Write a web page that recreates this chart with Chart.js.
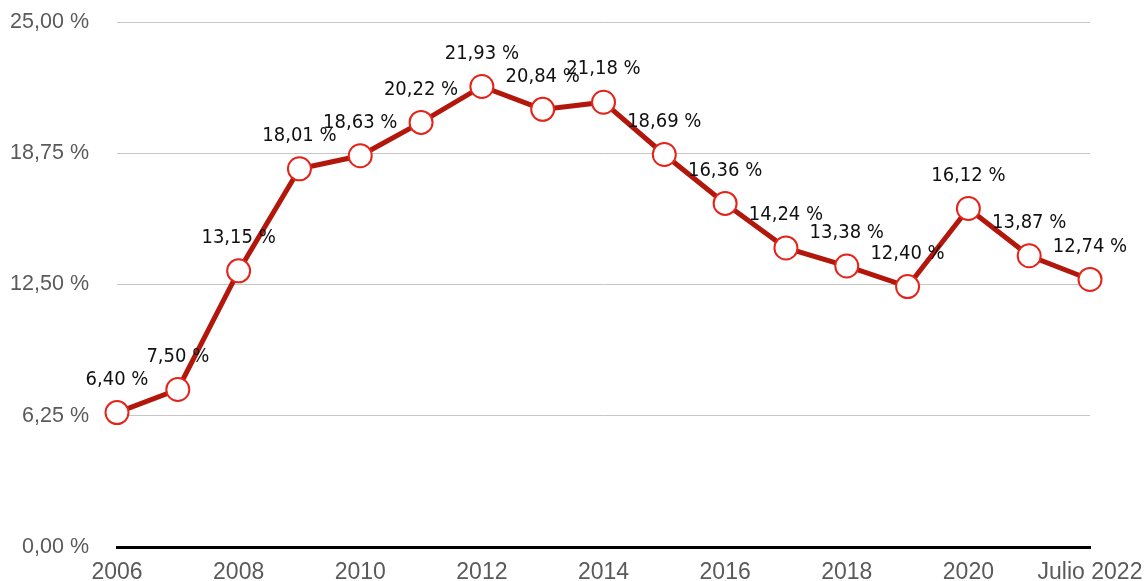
<!DOCTYPE html>
<html>
<head>
<meta charset="utf-8">
<script src="https://cdn.jsdelivr.net/npm/chart.js@4/dist/chart.umd.min.js"></script>
<style>
    html, body { margin: 0; padding: 0; background: #fff; }
    #wrap { width: 1146px; height: 581px; }
</style>
</head>
<body>
<div id="wrap"><canvas id="myChart" width="1146" height="581"></canvas></div>
<script>
const years = ['2006', '2007', '2008', '2009', '2010', '2011', '2012', '2013', '2014',
    '2015', '2016', '2017', '2018', '2019', '2020', '2021', 'Julio 2022'];
const rates = [6.40, 7.50, 13.15, 18.01, 18.63, 20.22, 21.93, 20.84, 21.18,
    18.69, 16.36, 14.24, 13.38, 12.40, 16.12, 13.87, 12.74];
const yTicks = [0, 6.25, 12.5, 18.75, 25];

const fmt = v => v.toFixed(2).replace('.', ',') + ' %';
const labelFont = '20px "DejaVu Sans Condensed", sans-serif';

// draws the value over each point
const pointLabels = {
    id: 'pointLabels',
    afterDatasetsDraw(chart) {
        const ctx = chart.ctx;
        const meta = chart.getDatasetMeta(0);
        ctx.save();
        ctx.font = labelFont;
        ctx.fillStyle = '#111111';
        ctx.textAlign = 'center';
        ctx.textBaseline = 'middle';
        meta.data.forEach((pt, i) => {
            ctx.fillText(fmt(rates[i]), pt.x, pt.y - 33);
        });
        ctx.restore();
    }
};

const ctx = document.getElementById('myChart').getContext('2d');
const myChart = new Chart(ctx, {
    type: 'line',
    data: {
        labels: years,
        datasets: [{
            data: rates,
            borderColor: '#b3170c',
            borderWidth: 5,
            pointBackgroundColor: '#ffffff',
            pointBorderColor: '#e4241a',
            pointBorderWidth: 2,
            pointRadius: 11.5,
            tension: 0,
            clip: false
        }]
    },
    options: {
        responsive: false,
        animation: false,
        layout: { autoPadding: false, padding: { left: 0, right: 56, top: 22, bottom: 0 } },
        plugins: {
            legend: { display: false },
            tooltip: { enabled: false }
        },
        scales: {
            x: {
                offset: false,
                grid: { display: false, drawTicks: false },
                border: { display: true, color: '#000000', width: 3 },
                afterFit: s => { s.height = 34; s.paddingLeft = 0; s.paddingRight = 0; },
                ticks: {
                    autoSkip: false,
                    maxRotation: 0,
                    padding: 12,
                    color: '#5a5a5a',
                    font: { family: '"Liberation Sans", Arial, sans-serif', size: 23 },
                    callback: (v, i) => (i % 2 === 0 ? years[i] : '')
                }
            },
            y: {
                min: 0,
                max: 25,
                afterBuildTicks: s => { s.ticks = yTicks.map(v => ({ value: v })); },
                afterFit: s => { s.width = 117; s.paddingTop = 0; s.paddingBottom = 0; },
                grid: { color: '#c6c6c6', lineWidth: 1, drawTicks: false },
                border: { display: false },
                ticks: {
                    padding: 28,
                    color: '#5a5a5a',
                    font: { family: '"Liberation Sans", Arial, sans-serif', size: 21.5 },
                    callback: v => fmt(v)
                }
            }
        }
    },
    plugins: [pointLabels]
});
</script>
</body>
</html>
